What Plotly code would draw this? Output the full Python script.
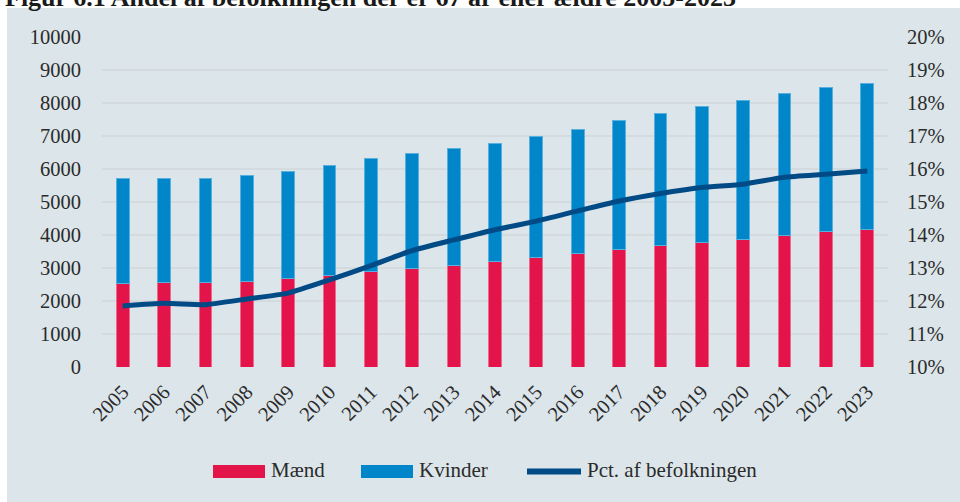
import plotly.graph_objects as go

years = [str(y) for y in range(2005, 2024)]
maend = [2540, 2550, 2550, 2600, 2690, 2780, 2890, 2990, 3090, 3190, 3320, 3440, 3560, 3690, 3780, 3870, 3990, 4100, 4180]
total = [5700, 5725, 5725, 5815, 5935, 6100, 6310, 6480, 6630, 6785, 6980, 7210, 7460, 7675, 7890, 8080, 8300, 8455, 8605]
kvinder = [t - m for t, m in zip(total, maend)]
pct = [11.85, 11.93, 11.89, 12.06, 12.24, 12.64, 13.07, 13.53, 13.85, 14.16, 14.42, 14.73, 15.03, 15.26, 15.44, 15.54, 15.75, 15.84, 15.94]

left_ticks = list(range(0, 10001, 1000))
right_ticks = list(range(10, 21, 1))
legend_names = ["Mænd", "Kvinder", "Pct. af befolkningen"]

title_text = "Figur 6.1 Andel af befolkningen der er 67 år eller ældre 2005-2023"

PANEL = "#dbe5ea"
FONT = "Liberation Serif, Times New Roman, serif"
TXT = "#2b2b2b"
RED = "#e2144a"
BLUE = "#0086c9"
NAVY = "#004a86"

# plot-area geometry in page pixels (for converting layout positions)
L, R, T, B = 102, 888, 37, 367
W, H = R - L, B - T


def px(x):
    return (x - L) / W


def py(y):
    return (B - y) / H


fig = go.Figure()
fig.add_trace(go.Bar(x=years, y=maend, name=legend_names[0],
                     marker=dict(color=RED, line=dict(color="#ee6a8c", width=1)), width=0.31))
fig.add_trace(go.Bar(x=years, y=kvinder, name=legend_names[1],
                     marker=dict(color=BLUE, line=dict(color="#59b0df", width=1)), width=0.31))
fig.add_trace(go.Scatter(x=years, y=pct, name=legend_names[2], mode="lines", yaxis="y2",
                         line=dict(color=NAVY, width=5, shape="spline", smoothing=0.5)))

shapes = [
    # white page strips above and left of the panel
    dict(type="rect", xref="paper", yref="paper", x0=px(-10), x1=px(970), y0=py(8), y1=py(-10),
         fillcolor="white", line=dict(width=0), layer="below"),
    dict(type="rect", xref="paper", yref="paper", x0=px(-10), x1=px(7), y0=py(510), y1=py(-10),
         fillcolor="white", line=dict(width=0), layer="below"),
    # legend keys
    dict(type="rect", xref="paper", yref="paper", x0=px(213), x1=px(265), y0=py(478), y1=py(465),
         fillcolor=RED, line=dict(width=0)),
    dict(type="rect", xref="paper", yref="paper", x0=px(361), x1=px(413), y0=py(478), y1=py(465),
         fillcolor=BLUE, line=dict(width=0)),
    dict(type="line", xref="paper", yref="paper", x0=px(527), x1=px(581), y0=py(471.5), y1=py(471.5),
         line=dict(color=NAVY, width=6)),
]

annotations = [
    dict(text=f"<b>{title_text}</b>", xref="paper", yref="paper", x=px(3), xanchor="left",
         y=py(-3), yanchor="middle", showarrow=False,
         font=dict(family=FONT, size=26, color="#1a1a1a")),
]
for name, xpos in zip(legend_names, [269, 417, 585]):
    annotations.append(dict(text=name, xref="paper", yref="paper", x=px(xpos), xanchor="left",
                            y=py(470), yanchor="middle", showarrow=False,
                            font=dict(family=FONT, size=21, color=TXT)))

fig.update_layout(
    width=960, height=502,
    margin=dict(l=L, r=960 - R, t=T, b=502 - B),
    paper_bgcolor=PANEL, plot_bgcolor=PANEL,
    barmode="stack",
    font=dict(family=FONT, size=20, color=TXT),
    showlegend=False,
    xaxis=dict(type="category", tickangle=-45, showgrid=False, zeroline=False, showline=False,
               ticks="outside", ticklen=4, tickcolor="rgba(0,0,0,0)",
               tickfont=dict(family=FONT, size=20.5, color=TXT)),
    yaxis=dict(range=[0, 10000], tickvals=left_ticks, ticktext=[str(v) for v in left_ticks],
               showgrid=True, gridcolor="#d4dbde", gridwidth=1.5, zeroline=False, showline=False,
               ticks="outside", ticklen=16, tickcolor="rgba(0,0,0,0)",
               tickfont=dict(family=FONT, size=20.5, color=TXT)),
    yaxis2=dict(range=[10, 20], tickvals=right_ticks, ticktext=[f"{v}%" for v in right_ticks],
                overlaying="y", side="right", showgrid=False, zeroline=False, showline=False,
                ticks="outside", ticklen=14, tickcolor="rgba(0,0,0,0)",
                tickfont=dict(family=FONT, size=20.5, color=TXT)),
    shapes=shapes,
    annotations=annotations,
)

fig.write_html("out.html", config={"displayModeBar": False},
               post_script="document.body.style.margin='0px';")
